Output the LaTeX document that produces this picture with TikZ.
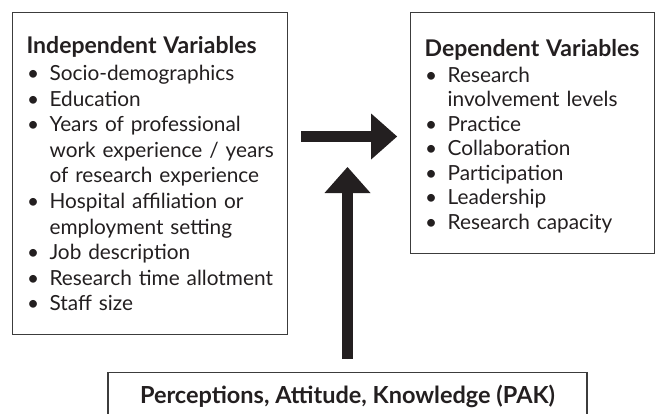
\documentclass[tikz,border=0pt]{standalone}
\usepackage{fontspec}
\setmainfont{Lato}
\usetikzlibrary{positioning,arrows.meta}
\definecolor{ink}{HTML}{231F20}
\definecolor{frame}{HTML}{3C3C3C}
% bullet item with hanging indent
\newcommand{\itm}[1]{\par\hangindent=23pt\hangafter=1\makebox[23pt][l]{\hspace{0.5pt}\textbullet}#1}
% box heading
\newcommand{\vhead}[1]{{\fontsize{23}{25.6}\selectfont\bfseries\mbox{#1}\par}\vspace{1.4pt}}

\begin{document}
\begin{tikzpicture}[x=1pt, y=1pt,
  every node/.style={font=\fontsize{20.8}{25.6}\selectfont, text=ink},
  varbox/.style={rectangle, draw=frame, line width=1.1pt, inner xsep=14pt, inner ysep=0pt, align=left},
  pakbox/.style={rectangle, draw=frame, line width=1.1pt, inner sep=0pt, minimum width=479pt, font=\fontsize{23.5}{25.6}\selectfont\bfseries},
  fatarrow/.style={-{Triangle[length=26pt, width=46pt, line width=0pt]}, line width=11pt, draw=ink, fill=ink}
]
\useasboundingbox (0,0) rectangle (659,-413);
% Left: independent variables
\node[varbox, anchor=north west, text width=247pt, text height=41pt, text depth=281pt] (indep) at (12,-12)
  {\parindent=0pt\vhead{Independent Variables}
   \itm{Socio-demographics}
   \itm{Education}
   \itm{Years of professional\newline \mbox{work experience / years}\newline of research experience}
   \itm{Hospital affiliation or\newline employment setting}
   \itm{Job description}
   \itm{Research time allotment}
   \itm{Staff size}};
% Right: dependent variables
\node[varbox, right=122pt of indep.north east, anchor=north west, text width=216pt, text height=44pt, text depth=197pt,
      font=\fontsize{20.8}{24.5}\selectfont] (dep)
  {\parindent=0pt\vhead{Dependent Variables}
   \itm{Research\newline involvement levels}
   \itm{Practice}
   \itm{Collaboration}
   \itm{Participation}
   \itm{Leadership}
   \itm{Research capacity}};
% Bottom: PAK (runs off the lower edge)
\node[pakbox, anchor=north, text height=31pt, text depth=30pt] (pak) at (347.5,-372) {Perceptions, Attitude, Knowledge (PAK)};
\coordinate (meet) at ([yshift=205pt]pak.north);
% Arrows
\draw[fatarrow, shorten <=13pt, shorten >=13pt] ([yshift=-124.5pt]indep.north east) -- ([yshift=-124.5pt]dep.north west);
\draw[fatarrow, shorten <=13pt] (pak.north) -- (meet);
\end{tikzpicture}
\end{document}
